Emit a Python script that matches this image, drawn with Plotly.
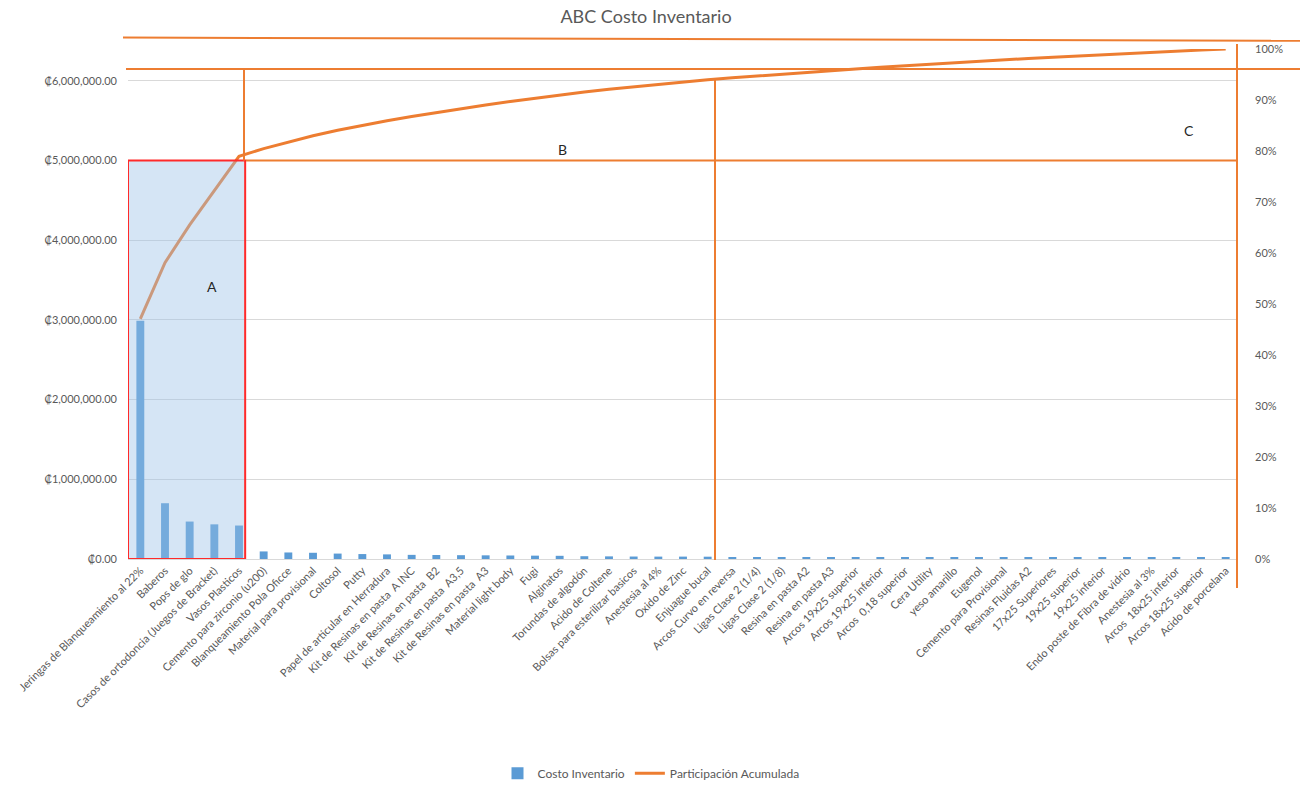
import plotly.graph_objects as go

# Inventory items sorted by cost (Pareto / ABC analysis)
productos = [
    "Jeringas de Blanqueamiento al 22%", "Baberos", "Pops de glo",
    "Casos de ortodoncia (Juegos de Bracket)", "Vasos Plasticos",
    "Cemento para zirconio (u200)", "Blanqueamiento Pola Oficce",
    "Material para provisional", "Coltosol", "Putty",
    "Papel de articular en Herradura", "Kit de Resinas en pasta  A INC",
    "Kit de Resinas en pasta  B2", "Kit de Resinas en pasta  A3,5",
    "Kit de Resinas en pasta  A3", "Material light body", "Fugi", "Alginatos",
    "Torundas de algodón", "Acido de Coltene", "Bolsas para esterilizar basicos",
    "Anestesia al 4%", "Oxido de Zinc", "Enjuague bucal", "Arcos Curvo en reversa",
    "Ligas Clase 2 (1/4)", "Ligas Clase 2 (1/8)", "Resina en pasta A2",
    "Resina en pasta A3", "Arcos 19x25 superior", "Arcos 19x25 inferior",
    "Arcos  0,18 superior", "Cera Utility", "yeso amarillo", "Eugenol",
    "Cemento para Provisional", "Resinas Fluidas A2", "17x25 Superiores",
    "19x25 superior", "19x25 inferior", "Endo poste de Fibra de vidrio",
    "Anestesia al 3%", "Arcos  18x25 inferior", "Arcos 18x25 superior",
    "Acido de porcelana",
]

costo_inventario = [
    2990000, 700000, 470000, 435000, 420000,
    95000, 82000, 78000, 68000, 62000,
    58000, 52000, 50000, 48000, 46000,
    44000, 42000, 40000, 35000, 33000,
    31000, 30000, 30000, 29000, 24000,
    23500, 23000, 22000, 21500, 21000,
    20000, 19500, 19000, 18500, 18000,
    17500, 17000, 16500, 16000, 15500,
    15000, 14500, 14000, 13500, 13000,
]

# Cumulative share of total inventory cost
total = sum(costo_inventario)
participacion_acumulada = []
acum = 0
for v in costo_inventario:
    acum += v
    participacion_acumulada.append(acum / total)

ticks_costo = [0, 1000000, 2000000, 3000000, 4000000, 5000000, 6000000]
etiquetas_costo = ["₡0.00", "₡1,000,000.00", "₡2,000,000.00", "₡3,000,000.00",
                   "₡4,000,000.00", "₡5,000,000.00", "₡6,000,000.00"]
ticks_pct = [i / 10 for i in range(11)]
etiquetas_pct = [f"{i * 10}%" for i in range(11)]

GRIS = "#595959"
AZUL = "#5B9BD5"
NARANJA = "#ED7D31"
FUENTE = "Lato"

W, H = 1303, 799
L, R, T, B = 128, 1238, 49, 561


def px(x):
    return (x - L) / (R - L)


def py(y):
    return (B - y) / (B - T)


fig = go.Figure()
fig.add_trace(go.Bar(
    x=productos, y=costo_inventario, name="Costo Inventario",
    marker=dict(color=AZUL, line=dict(width=0)), yaxis="y",
))
fig.add_trace(go.Scatter(
    x=productos, y=participacion_acumulada, name="Participación Acumulada",
    mode="lines", line=dict(color=NARANJA, width=3), yaxis="y2",
))

shapes = []
# Zone A: shaded box with red outline
shapes.append(dict(type="rect", xref="x", yref="y", x0=-0.5, x1=4.25, y0=0, y1=5000000,
                   fillcolor="rgba(155,194,230,0.42)", line=dict(color="#FF2A2A", width=2),
                   layer="above"))
# Zone separators
lin = dict(color=NARANJA, width=2)
shapes += [
    dict(type="line", xref="paper", yref="paper", x0=px(123), x1=px(1300), y0=py(37.5), y1=py(40.7), line=lin),
    dict(type="line", xref="paper", yref="paper", x0=px(126), x1=px(1300), y0=py(69), y1=py(69), line=lin),
    dict(type="line", xref="paper", yref="paper", x0=px(244), x1=px(244), y0=py(69), y1=py(161), line=lin),
    dict(type="line", xref="paper", yref="paper", x0=px(246), x1=px(1237), y0=py(161), y1=py(161), line=lin),
    dict(type="line", xref="paper", yref="paper", x0=px(715), x1=px(715), y0=py(80), y1=py(562), line=lin),
    dict(type="line", xref="paper", yref="paper", x0=px(1237), x1=px(1237), y0=py(44), y1=py(590), line=lin),
]

annotations = [
    dict(text=t, x=px(x), y=py(y), xref="paper", yref="paper", showarrow=False,
         xanchor="center", yanchor="middle",
         font=dict(family=FUENTE, size=14, color="#262626"))
    for t, x, y in [("A", 212, 287), ("B", 562, 150), ("C", 1189, 131)]
]

fig.update_layout(
    width=W, height=H,
    margin=dict(l=L, r=W - R, t=T, b=H - B, pad=0),
    paper_bgcolor="white", plot_bgcolor="white",
    font=dict(family=FUENTE, color=GRIS, size=11),
    title=dict(text="ABC Costo Inventario", x=646 / W, xref="container", xanchor="center",
               y=1 - 17 / H, yref="container", yanchor="middle",
               font=dict(family=FUENTE, size=18, color=GRIS)),
    bargap=0.68,
    showlegend=True,
    legend=dict(orientation="h", x=px(651), xanchor="center", y=-(776 - B) / (B - T),
                yanchor="middle", font=dict(family=FUENTE, size=12, color=GRIS),
                traceorder="normal", itemwidth=30),
    xaxis=dict(type="category", range=[-0.5, len(productos) - 0.5], tickangle=-45,
               showgrid=False, showline=True, linecolor="#D9D9D9", linewidth=1,
               ticks="", tickfont=dict(family=FUENTE, size=11, color=GRIS)),
    yaxis=dict(range=[0, 6400000], tickvals=ticks_costo, ticktext=etiquetas_costo,
               showgrid=True, gridcolor="#D9D9D9", gridwidth=1, zeroline=False,
               showline=False, ticks="", ticklabelstandoff=10,
               tickfont=dict(family=FUENTE, size=11, color=GRIS)),
    yaxis2=dict(range=[0, 1], overlaying="y", side="right", tickvals=ticks_pct,
                ticktext=etiquetas_pct, showgrid=False, zeroline=False, showline=False,
                ticks="", ticklabelstandoff=16,
                tickfont=dict(family=FUENTE, size=11, color=GRIS)),
    shapes=shapes,
    annotations=annotations,
)

fig.write_html("out.html")
